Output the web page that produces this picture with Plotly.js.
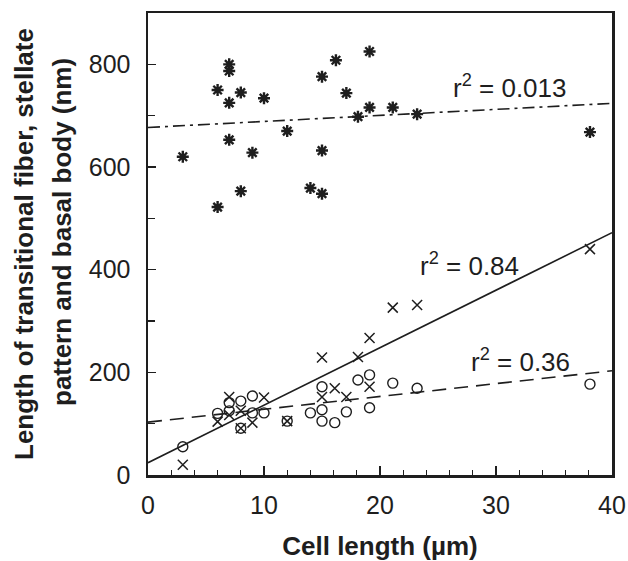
<!DOCTYPE html>
<html>
<head>
<meta charset="utf-8">
<script src="https://cdn.plot.ly/plotly-3.0.1.min.js"></script>
<style>html,body{margin:0;padding:0;background:#fff;}#chart{width:628px;height:561px;}</style>
</head>
<body>
<div id="chart"></div>
<script>
// Stellate pattern (asterisks)
var starX = [3, 6, 6, 7, 7, 7, 7, 8, 8, 9, 10, 12, 14, 15, 15, 15, 16.2, 17.1, 18.1, 19.1, 19.1, 21.1, 23.2, 38.1];
var starY = [620, 750, 522, 800, 787, 725, 653, 745, 553, 628, 734, 670, 559, 776, 632, 548, 808, 744, 698, 825, 716, 716, 703, 668];
// Basal body (crosses)
var crossX = [3, 6, 7, 7, 8, 8, 9, 10, 12, 15, 15, 16.1, 17.1, 18.1, 19.1, 19.1, 21.1, 23.2, 38.1];
var crossY = [20, 104, 152, 117, 125, 91, 102, 151, 105, 229, 152, 169, 152, 230, 267, 172, 326, 331, 440];
// Transitional fiber (circles)
var circX = [3, 6, 7, 7, 8, 8, 9, 9, 10, 12, 14, 15, 15, 15, 16.1, 17.1, 18.1, 19.1, 19.1, 21.1, 23.2, 38.1];
var circY = [55, 120, 141, 125, 144, 91, 154, 121, 121, 105, 121, 172, 127, 105, 102, 123, 185, 195, 131, 179, 169, 177];
// Regression lines (end points)
var fitX = [0, 40];
var starFitY = [677, 724];
var crossFitY = [24, 472];
var circFitY = [103, 203];
// Labels
var labelTexts = ['r<sup>2</sup> = 0.013', 'r<sup>2</sup> = 0.84', 'r<sup>2</sup> = 0.36'];
var labelX = [26.1, 23.3, 27.7];
var labelY = [756, 411, 224];
var xTickVals = [0, 10, 20, 30, 40];
var yTickVals = [0, 200, 400, 600, 800];

var ink = '#1e1e1e';
var traces = [
  {x: fitX, y: starFitY, mode: 'lines', line: {color: ink, width: 1.6, dash: '12px,5px,3px,5px'}, hoverinfo: 'skip'},
  {x: fitX, y: crossFitY, mode: 'lines', line: {color: ink, width: 1.6}, hoverinfo: 'skip'},
  {x: fitX, y: circFitY, mode: 'lines', line: {color: ink, width: 1.6, dash: '14px,8px'}, hoverinfo: 'skip'},
  {x: starX, y: starY, mode: 'markers', marker: {symbol: 'asterisk-open', size: 10, color: ink, line: {color: ink, width: 2.4}}},
  {x: crossX, y: crossY, mode: 'markers', marker: {symbol: 'x-thin-open', size: 10, color: ink, line: {color: ink, width: 1.5}}},
  {x: circX, y: circY, mode: 'markers', marker: {symbol: 'circle-open', size: 10, color: ink, line: {color: ink, width: 1.4}}}
];

var annotations = labelTexts.map(function (t, i) {
  return {text: t, x: labelX[i], y: labelY[i], xref: 'x', yref: 'y', xanchor: 'left', yanchor: 'middle',
          showarrow: false, font: {family: 'Liberation Sans, Arial, sans-serif', size: 26, color: ink}};
});
annotations.push({text: '<b>Length of transitional fiber, stellate</b>', textangle: -90, xref: 'paper', yref: 'paper',
  x: (24 - 148) / 464, y: (475 - 244) / 462, xanchor: 'center', yanchor: 'middle', showarrow: false,
  font: {family: 'Liberation Sans, Arial, sans-serif', size: 26, color: ink}});
annotations.push({text: '<b>pattern and basal body (nm)</b>', textangle: -90, xref: 'paper', yref: 'paper',
  x: (62 - 148) / 464, y: (475 - 232) / 462, xanchor: 'center', yanchor: 'middle', showarrow: false,
  font: {family: 'Liberation Sans, Arial, sans-serif', size: 26, color: ink}});

var layout = {
  width: 628, height: 561,
  margin: {l: 148, r: 16, t: 13, b: 86},
  paper_bgcolor: '#fff', plot_bgcolor: '#fff',
  showlegend: false,
  font: {family: 'Liberation Sans, Arial, sans-serif', color: ink},
  xaxis: {
    range: [0, 40], tickvals: xTickVals, ticks: 'inside', ticklen: 9, tickwidth: 1.5, tickcolor: ink,
    minor: {dtick: 2, ticks: 'inside', ticklen: 5, tickwidth: 1.2, tickcolor: ink},
    showline: true, linewidth: 2.5, linecolor: ink, mirror: true, showgrid: false, zeroline: false,
    tickfont: {size: 25, color: ink}, ticklabelstandoff: 6,
    title: {text: '<b>Cell length (µm)</b>', font: {size: 26, color: ink}, standoff: 20}
  },
  yaxis: {
    range: [0, 900], tickvals: yTickVals, ticks: 'inside', ticklen: 8, tickwidth: 1.5, tickcolor: ink,
    minor: {dtick: 100, ticks: 'inside', ticklen: 7, tickwidth: 1.2, tickcolor: ink},
    showline: true, linewidth: 2.5, linecolor: ink, mirror: true, showgrid: false, zeroline: false,
    tickfont: {size: 25, color: ink}, ticklabelstandoff: 10
  },
  annotations: annotations
};

Plotly.newPlot('chart', traces, layout, {staticPlot: true, displayModeBar: false});
</script>
</body>
</html>
